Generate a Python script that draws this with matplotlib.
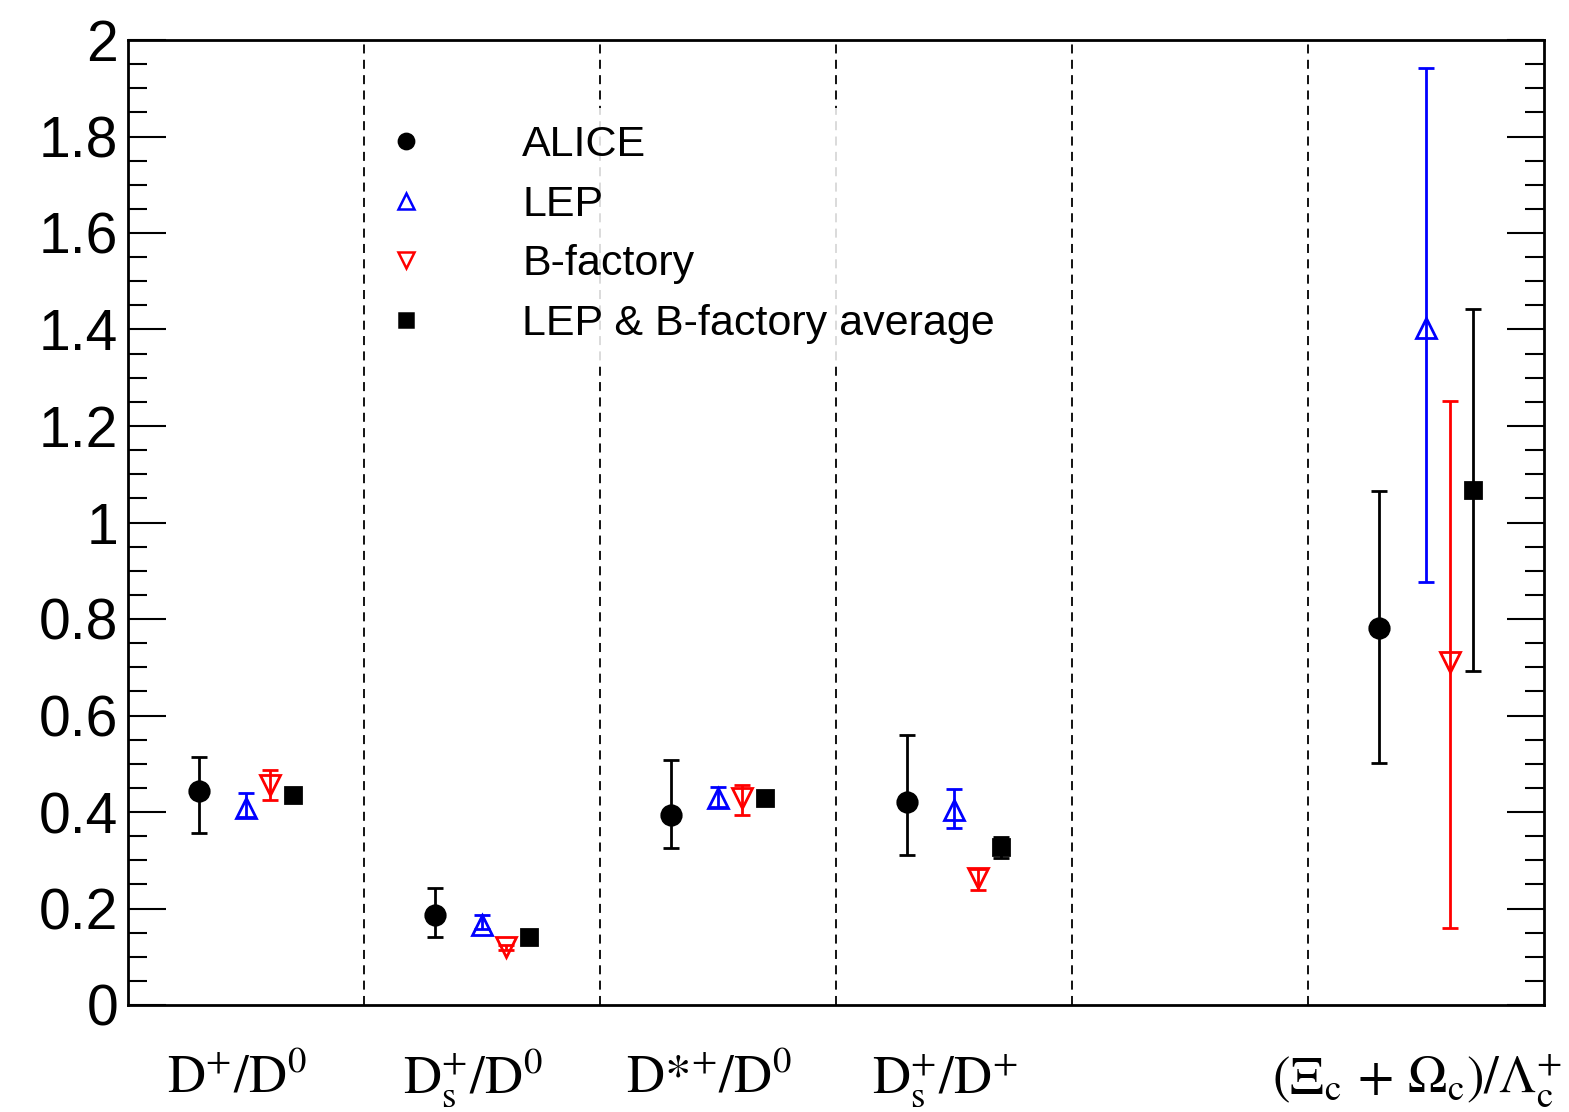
import numpy as np
import matplotlib
matplotlib.use("Agg")
import matplotlib.pyplot as plt
from matplotlib.lines import Line2D
from matplotlib.ticker import MultipleLocator

plt.rcParams['font.family'] = ['Liberation Sans', 'DejaVu Sans']
plt.rcParams['mathtext.fontset'] = 'stix'

# Datos
ratios = [r'$\mathrm{D^{+}/D^{0}}$', r'$\mathrm{D_{s}^{+}/D^{0}}$', r'$\mathrm{D{*}^{+}/D^{0}}$',
          r'$\mathrm{D_{s}^{+}/D^{+}}$', r'$\mathrm{(\Xi_{c}\,+\,\Omega_{c})/\Lambda_{c}^{+}}$']
bins = [0, 1, 2, 3, 5]

alice = [0.443, 0.187, 0.394, 0.421, 0.781]
alice_lo = [0.087, 0.046, 0.069, 0.110, 0.279]
alice_hi = [0.071, 0.055, 0.114, 0.139, 0.285]

lep = [0.408, 0.166, 0.429, 0.404, 1.403]
lep_lo = [0.018, 0.008, 0.019, 0.037, 0.526]
lep_hi = [0.031, 0.021, 0.023, 0.043, 0.539]

bfac = [0.456, 0.120, 0.430, 0.263, 0.711]
bfac_lo = [0.031, 0.005, 0.036, 0.025, 0.551]
bfac_hi = [0.031, 0.005, 0.026, 0.019, 0.541]

avg = [0.435, 0.141, 0.429, 0.328, 1.067]
avg_lo = [0.008, 0.004, 0.006, 0.023, 0.375]
avg_hi = [0.008, 0.004, 0.006, 0.020, 0.376]

series = [
    ('ALICE', alice, alice_lo, alice_hi, 0.30, 'o', 'black', 'black', 14, 11),
    ('LEP', lep, lep_lo, lep_hi, 0.50, '^', 'blue', 'none', 14, 12),
    ('B-factory', bfac, bfac_lo, bfac_hi, 0.60, 'v', 'red', 'none', 14, 12),
    ('LEP & B-factory average', avg, avg_lo, avg_hi, 0.70, 's', 'black', 'black', 12, 10),
]

fig = plt.figure(figsize=(15.69, 11.12), dpi=100)
ax = fig.add_axes([128 / 1569, 107 / 1112, 1416 / 1569, 965 / 1112])

handles = []
for nombre, vals, lo, hi, off, mk, col, fc, ms, ms_leg in series:
    x = np.array(bins) + off
    ax.errorbar(x, vals, yerr=[lo, hi], fmt=mk, color=col, mfc=fc, mec=col,
                ms=ms, mew=2, elinewidth=2, capsize=6, capthick=2, zorder=3)
    handles.append(Line2D([], [], ls='none', marker=mk, color=col, mfc=fc, mec=col,
                          ms=ms_leg, mew=1.8, label=nombre))

for b in range(1, 6):
    ax.axvline(b, color='black', ls=(0, (5, 3.5)), lw=1.3, zorder=1)

ax.set_xlim(0, 6)
ax.set_ylim(0, 2)
ax.yaxis.set_minor_locator(MultipleLocator(0.05))
ax.set_yticks(np.arange(0, 2.01, 0.2))
ax.set_yticklabels(['0', '0.2', '0.4', '0.6', '0.8', '1', '1.2', '1.4', '1.6', '1.8', '2'])
ax.tick_params(axis='y', which='major', direction='in', length=27, width=1.5,
               labelsize=41, right=True, pad=7)
ax.tick_params(axis='y', which='minor', direction='in', length=14, width=1.5, right=True)
ax.set_xticks([])
for s in ax.spines.values():
    s.set_linewidth(2)

for b, lab in zip(bins, ratios):
    ax.text(b + 0.46, -0.182, lab, ha='center', va='baseline', fontsize=38,
            transform=ax.transData)

leg = ax.legend(handles=handles, loc='upper left', bbox_to_anchor=(0.169, 0.930),
                frameon=True, fancybox=False, framealpha=0.85, edgecolor='none',
                fontsize=31, handletextpad=2.2, labelspacing=0.46,
                handlelength=1.0, borderaxespad=0, borderpad=0.4)
leg.set_zorder(2)

fig.savefig('out.png', dpi=100)
